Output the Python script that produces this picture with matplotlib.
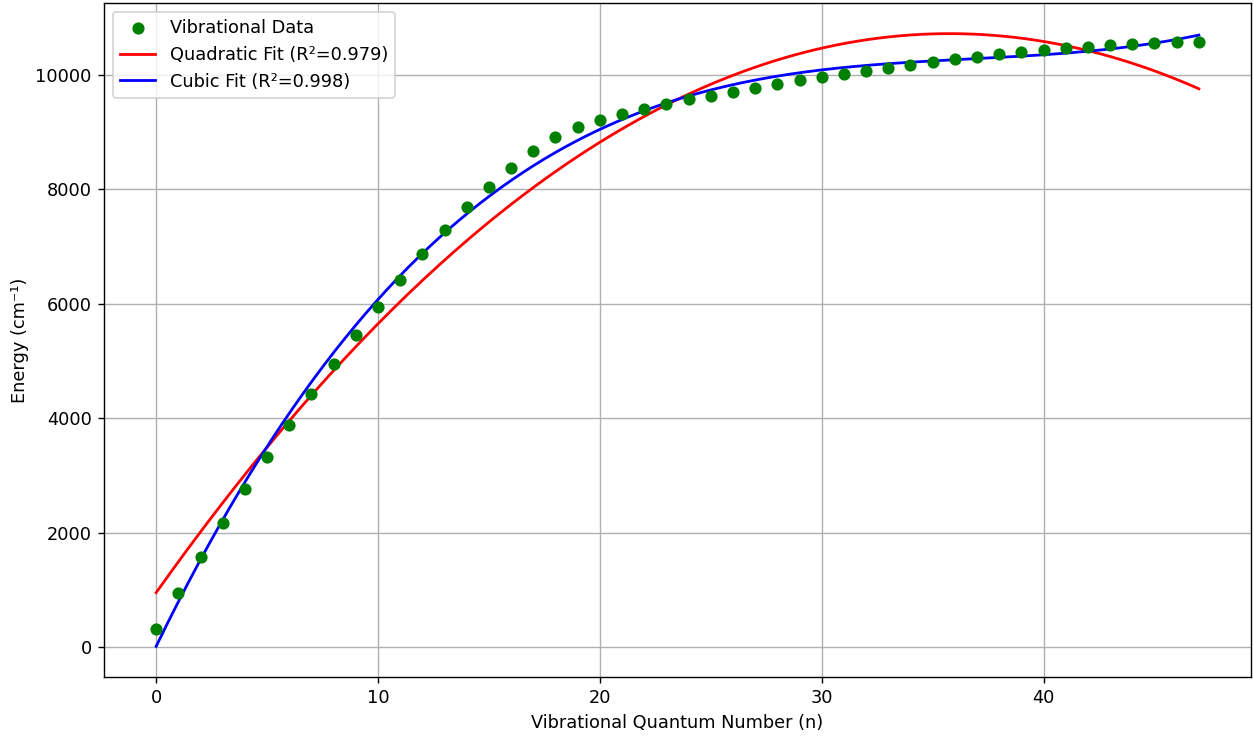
import numpy as np
import matplotlib
matplotlib.use("Agg")
import matplotlib.pyplot as plt

plt.rcParams["font.size"] = 10.2

# vibrational levels
n = np.arange(48)
energy = np.array([
    320, 944, 1573, 2168, 2762, 3322, 3881, 4423, 4948, 5455,
    5944, 6416, 6871, 7290, 7692, 8042, 8374, 8671, 8916, 9091,
    9213, 9318, 9406, 9493, 9580, 9633, 9703, 9773, 9843, 9913,
    9965, 10017, 10070, 10122, 10175, 10227, 10280, 10315, 10367, 10402,
    10437, 10472, 10490, 10524, 10542, 10559, 10577, 10577,
])


def r_squared(y, y_fit):
    ss_res = np.sum((y - y_fit) ** 2)
    ss_tot = np.sum((y - np.mean(y)) ** 2)
    return 1 - ss_res / ss_tot


quad = np.polyfit(n, energy, 2)
cubic = np.polyfit(n, energy, 3)
r2_quad = r_squared(energy, np.polyval(quad, n))
r2_cubic = r_squared(energy, np.polyval(cubic, n))

x_fit = np.linspace(n.min(), n.max(), 200)

fig = plt.figure(figsize=(1253 / 125, 737 / 125), dpi=125)
ax = fig.add_axes([104 / 1253, 60 / 737, 1147 / 1253, 674 / 737])

ax.scatter(n, energy, color="green", label="Vibrational Data", zorder=3)
ax.plot(x_fit, np.polyval(quad, x_fit), "r-", lw=1.6,
        label=f"Quadratic Fit (R²={r2_quad:.3f})")
ax.plot(x_fit, np.polyval(cubic, x_fit), "b-", lw=1.6,
        label=f"Cubic Fit (R²={r2_cubic:.3f})")

ax.set_xlabel("Vibrational Quantum Number (n)")
ax.set_ylabel("Energy (cm⁻¹)")
ax.legend(loc="upper left")
ax.grid(True)

fig.savefig("out.png", dpi=125)
